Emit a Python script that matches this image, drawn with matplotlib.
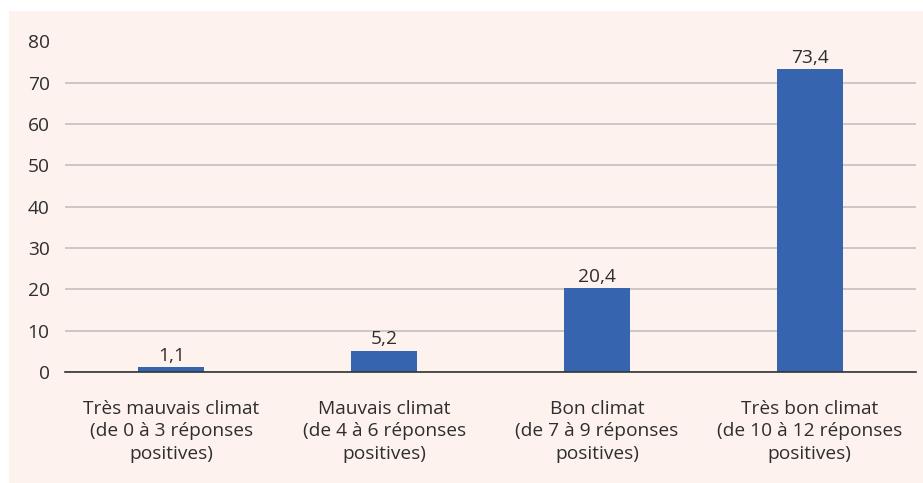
import numpy as np
import matplotlib.pyplot as plt
from matplotlib.patches import Rectangle

plt.rcParams['font.family'] = ['Open Sans', 'DejaVu Sans']

# data
categories = ['Très mauvais climat\n(de 0 à 3 réponses\npositives)',
              'Mauvais climat\n(de 4 à 6 réponses\npositives)',
              'Bon climat\n(de 7 à 9 réponses\npositives)',
              'Très bon climat\n(de 10 à 12 réponses\npositives)']
values = [1.1, 5.2, 20.4, 73.4]
yticks = [0, 10, 20, 30, 40, 50, 60, 70, 80]

bg = '#fdf2ed'
bar_color = '#3764ae'
text_color = '#2e2e2e'
fs = 13.8

fig = plt.figure(figsize=(9.23, 4.83), dpi=100, facecolor='white')
# beige panel behind the chart
fig.patches.append(Rectangle((9 / 923, 0), 1 - 9 / 923, 1 - 11 / 483,
                             transform=fig.transFigure, facecolor=bg,
                             edgecolor='none', zorder=-1))

ax = fig.add_axes([65 / 923, 111 / 483, 851 / 923, 330.5 / 483])
ax.set_facecolor('none')

x = np.arange(len(values))
ax.bar(x, values, width=0.31, color=bar_color, zorder=3)

for xi, v in zip(x, values):
    ax.text(xi, v + 0.5, ('%.1f' % v).replace('.', ','), ha='center', va='bottom',
            fontsize=fs, color=text_color, zorder=4)

ax.set_xlim(-0.5, len(values) - 0.5)
ax.set_ylim(0, 80)
ax.set_yticks(yticks)
ax.set_yticklabels([str(t) for t in yticks])
ax.set_xticks(x)
ax.set_xticklabels(categories, linespacing=1.33)

ax.tick_params(axis='y', length=0, pad=11, labelsize=fs, labelcolor=text_color)
ax.tick_params(axis='x', length=0, pad=20, labelsize=fs, labelcolor=text_color)

ax.yaxis.grid(True, color='#c4c0bd', linewidth=1.2, zorder=0)
for s in ['top', 'right', 'left']:
    ax.spines[s].set_visible(False)
ax.spines['bottom'].set_color('#333333')
ax.spines['bottom'].set_linewidth(1.2)
ax.spines['bottom'].set_zorder(5)

fig.savefig('out.png', dpi=100, facecolor=fig.get_facecolor())
